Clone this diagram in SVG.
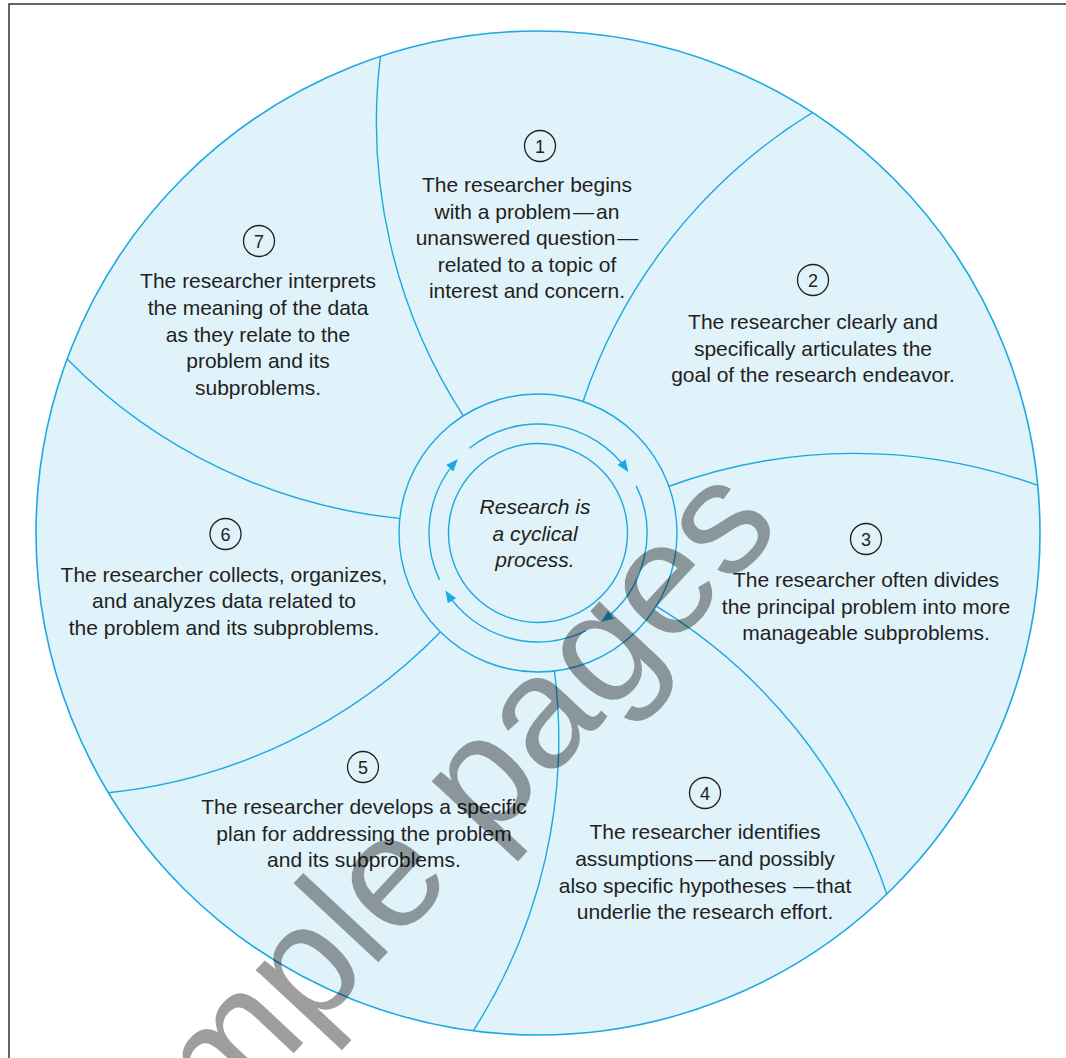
<svg xmlns="http://www.w3.org/2000/svg" width="1066" height="1058" viewBox="0 0 1066 1058">
  <defs>
    <style>
      .disc { fill: #E0F2FA; stroke: #1BA9E1; stroke-width: 1.6; }
      .ring { fill: none; stroke: #1BA9E1; stroke-width: 1.4; }
      .divider { fill: none; stroke: #1BA9E1; stroke-width: 1.4; }
      .cycle { fill: none; stroke: #1BA9E1; stroke-width: 1.4; marker-end: url(#head); }
      .txt { font-family: "Liberation Sans", Arial, Helvetica, sans-serif; font-size: 21px; fill: #231F20; text-anchor: middle; }
      .center { font-style: italic; }
      .badge { fill: none; stroke: #231F20; stroke-width: 1.3; }
      .num { font-family: "Liberation Sans", Arial, Helvetica, sans-serif; font-size: 18px; fill: #231F20; text-anchor: middle; }
      .mark { font-family: "Liberation Sans", Arial, Helvetica, sans-serif; font-size: 160px; fill: #000000; fill-opacity: 0.38; }
    </style>
    <marker id="head" viewBox="0 0 12 10" refX="11" refY="5" markerWidth="12" markerHeight="10" markerUnits="userSpaceOnUse" orient="auto">
      <path d="M0,0 L12,5 L0,10 z" fill="#1BA9E1"/>
    </marker>
    <path id="spoke" d="M463.3,415.8 A540,540 0 0 1 380.4,56.4"/>
  </defs>

  <!-- page frame (top and left edges) -->
  <path d="M9,1058 V4 H1066" fill="none" stroke="#333333" stroke-width="1.5"/>

  <!-- wheel background -->
  <circle class="disc" cx="538" cy="533" r="502"/>

  <!-- connectors: spokes, hub rings and cycle arrows -->
  <g id="connectors">
    <use href="#spoke" class="divider"/>
    <use href="#spoke" class="divider" transform="rotate(51.4286 538 533)"/>
    <use href="#spoke" class="divider" transform="rotate(102.8571 538 533)"/>
    <use href="#spoke" class="divider" transform="rotate(154.2857 538 533)"/>
    <use href="#spoke" class="divider" transform="rotate(205.7143 538 533)"/>
    <use href="#spoke" class="divider" transform="rotate(257.1429 538 533)"/>
    <use href="#spoke" class="divider" transform="rotate(308.5714 538 533)"/>
    <circle class="ring" cx="538" cy="533" r="139"/>
    <circle class="ring" cx="538" cy="533" r="89.5"/>
    <path class="cycle" d="M469.4,448.3 A109,109 0 0 1 627.7,471.1"/>
    <path class="cycle" d="M636.3,485.9 A109,109 0 0 1 602.1,621.2"/>
    <path class="cycle" d="M586.3,630.7 A109,109 0 0 1 446.1,591.6"/>
    <path class="cycle" d="M439.6,579.9 A109,109 0 0 1 457.0,460.1"/>
  </g>

  <g id="hub">
    <text class="txt center" x="535" y="514.3">Research is</text>
    <text class="txt center" x="535" y="540.7">a cyclical</text>
    <text class="txt center" x="535" y="567.3">process.</text>
  </g>

  <g id="step1">
    <circle class="badge" cx="540" cy="146" r="15.5"/>
    <text class="num" x="540" y="152.5">1</text>
    <text class="txt" x="527" y="192">The researcher begins</text>
    <text class="txt" x="527" y="218.6">with a problem<tspan dx="2">—</tspan><tspan dx="2">an</tspan></text>
    <text class="txt" x="527" y="245.2">unanswered question<tspan dx="2">—</tspan></text>
    <text class="txt" x="527" y="271.8">related to a topic of</text>
    <text class="txt" x="527" y="298.4">interest and concern.</text>
  </g>

  <g id="step2">
    <circle class="badge" cx="813" cy="280" r="15.5"/>
    <text class="num" x="813" y="286.5">2</text>
    <text class="txt" x="813" y="329">The researcher clearly and</text>
    <text class="txt" x="813" y="355.7">specifically articulates the</text>
    <text class="txt" x="813" y="382.3">goal of the research endeavor.</text>
  </g>

  <g id="step3">
    <circle class="badge" cx="866" cy="539" r="15.5"/>
    <text class="num" x="866" y="545.5">3</text>
    <text class="txt" x="866" y="587">The researcher often divides</text>
    <text class="txt" x="866" y="613.5">the principal problem into more</text>
    <text class="txt" x="866" y="640">manageable subproblems.</text>
  </g>

  <g id="step4">
    <circle class="badge" cx="705" cy="793" r="15.5"/>
    <text class="num" x="705" y="799.5">4</text>
    <text class="txt" x="705" y="839.3">The researcher identifies</text>
    <text class="txt" x="705" y="866">assumptions<tspan dx="2">—</tspan><tspan dx="2">and possibly</tspan></text>
    <text class="txt" x="705" y="892.7">also specific hypotheses <tspan dx="1">—</tspan><tspan dx="2">that</tspan></text>
    <text class="txt" x="705" y="919.3">underlie the research effort.</text>
  </g>

  <g id="step5">
    <circle class="badge" cx="363" cy="767" r="15.5"/>
    <text class="num" x="363" y="773.5">5</text>
    <text class="txt" x="364" y="814">The researcher develops a specific</text>
    <text class="txt" x="364" y="840.7">plan for addressing the problem</text>
    <text class="txt" x="364" y="867.3">and its subproblems.</text>
  </g>

  <g id="step6">
    <circle class="badge" cx="225.5" cy="534" r="15.5"/>
    <text class="num" x="225.5" y="540.5">6</text>
    <text class="txt" x="224" y="581.7">The researcher collects, organizes,</text>
    <text class="txt" x="224" y="608.3">and analyzes data related to</text>
    <text class="txt" x="224" y="635">the problem and its subproblems.</text>
  </g>

  <g id="step7">
    <circle class="badge" cx="259" cy="241" r="15.5"/>
    <text class="num" x="259" y="247.5">7</text>
    <text class="txt" x="258" y="288.3">The researcher interprets</text>
    <text class="txt" x="258" y="315">the meaning of the data</text>
    <text class="txt" x="258" y="341.7">as they relate to the</text>
    <text class="txt" x="258" y="368.3">problem and its</text>
    <text class="txt" x="258" y="395">subproblems.</text>
  </g>

  <!-- overprinted stamp -->
  <text class="mark" transform="translate(86 1276) rotate(-47)">Sample pages</text>
</svg>
